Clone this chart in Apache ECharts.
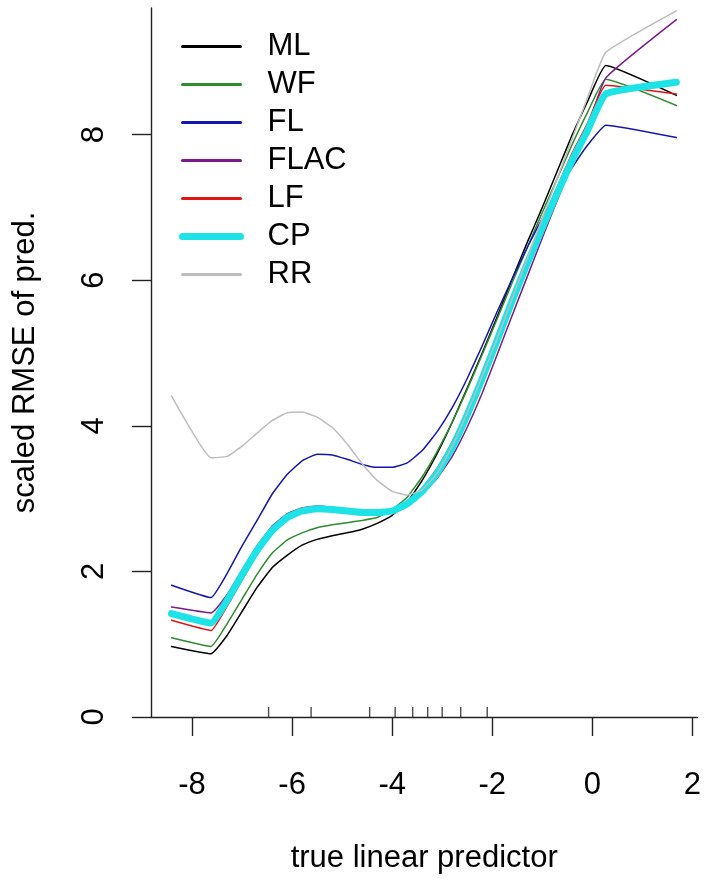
<!DOCTYPE html>
<html><head><meta charset="utf-8">
<script src="https://cdn.jsdelivr.net/npm/echarts@6/dist/echarts.min.js"></script>
<style>html,body{margin:0;padding:0;background:#fff}#c{width:704px;height:879px}</style>
</head><body><div id="c"></div>
<script>
const xs   = [-8.41,-7.62,-7.3,-7.0,-6.7,-6.4,-6.1,-5.8,-5.5,-5.2,-4.9,-4.6,-4.3,-4.0,-3.7,-3.4,-3.1,-2.8,-2.5,-2.2,-1.9,-1.6,-1.3,-1.0,-0.7,-0.4,-0.1,0.27,1.68];
const ML   = [0.97,0.87,1.12,1.45,1.78,2.05,2.22,2.36,2.44,2.49,2.53,2.58,2.66,2.77,2.95,3.25,3.62,4.05,4.52,5.00,5.50,6.02,6.52,7.00,7.50,8.00,8.45,8.95,8.54];
const WF   = [1.09,0.97,1.28,1.62,1.96,2.25,2.43,2.53,2.60,2.64,2.67,2.70,2.74,2.85,3.02,3.30,3.65,4.05,4.50,4.98,5.47,5.97,6.45,6.93,7.40,7.87,8.30,8.76,8.40];
const FL   = [1.81,1.64,1.97,2.35,2.70,3.06,3.33,3.52,3.61,3.60,3.54,3.47,3.43,3.43,3.49,3.66,3.92,4.25,4.65,5.10,5.57,6.02,6.45,6.85,7.22,7.55,7.85,8.13,7.96];
const FLAC = [1.51,1.43,1.68,2.02,2.35,2.62,2.79,2.87,2.90,2.88,2.85,2.82,2.81,2.83,2.92,3.07,3.28,3.58,3.98,4.45,4.98,5.52,6.05,6.58,7.10,7.60,8.10,8.78,9.58];
const LF   = [1.33,1.19,1.52,1.88,2.23,2.52,2.72,2.82,2.86,2.85,2.83,2.81,2.81,2.83,2.95,3.14,3.42,3.78,4.22,4.72,5.25,5.78,6.30,6.80,7.28,7.75,8.15,8.68,8.56];
const CP   = [1.42,1.29,1.60,1.95,2.29,2.56,2.74,2.83,2.86,2.85,2.83,2.81,2.81,2.83,2.93,3.10,3.35,3.70,4.15,4.65,5.18,5.72,6.23,6.72,7.20,7.65,8.05,8.56,8.72];
const RR   = [4.41,3.56,3.58,3.72,3.90,4.07,4.18,4.19,4.12,3.98,3.75,3.48,3.25,3.10,3.05,3.12,3.35,3.72,4.18,4.68,5.20,5.75,6.30,6.85,7.40,7.95,8.50,9.13,9.70];
const rugX = [-6.47,-5.62,-4.45,-3.94,-3.59,-3.29,-3.00,-2.63,-2.10];
const xTicks = [-8,-6,-4,-2,0,2];
const yTicks = [0,2,4,6,8];
const names  = ['ML','WF','FL','FLAC','LF','CP','RR'];
const values = [ML, WF, FL, FLAC, LF, CP, RR];
const colors = ['#000000','#2e8b2e','#1515b0','#7a1a8c','#e01515','#1ee3e6','#bdbdbd'];
const widths = [1.5,1.5,1.5,1.5,1.5,7,1.5];

const FONT = "'Liberation Sans', Arial, sans-serif";
const AX = '#222';
const chart = echarts.init(document.getElementById('c'), null, {renderer:'canvas'});
const series = names.map((n,i)=>({
  name:n, type:'line', symbol:'none', showSymbol:false, smooth:0.12, z: 2+i,
  lineStyle:{color:colors[i], width:widths[i], cap:'round', join:'round'},
  itemStyle:{color:colors[i]},
  data: xs.map((x,j)=>[x, values[i][j]])
}));
series.push({
  type:'scatter', symbol:'rect', symbolSize:[1.4,10], symbolOffset:[0,-5],
  itemStyle:{color:AX}, silent:true, z:1,
  data: rugX.map(x=>[x,0])
});
chart.setOption({
  animation:false,
  grid:{left:151, right:4, top:8, bottom:155, containLabel:false},
  legend:{
    orient:'vertical', left:179, top:31, padding:0,
    itemWidth:58, itemHeight:14, itemGap:7,
    data:names.map((n,i)=>({name:n, icon:'inherit',
      itemStyle:{opacity:0, borderWidth:0},
      lineStyle:{width: i===5 ? 7 : 3, color:colors[i], cap:'round', opacity:1}})),
    textStyle:{fontSize:31, lineHeight:31, color:'#000', fontFamily:FONT, padding:[0,0,0,22]}
  },
  xAxis:{
    type:'value', min:-8.82, max:2.10,
    name:'true linear predictor', nameLocation:'middle', nameGap:126,
    nameTextStyle:{fontSize:31, color:'#000', fontFamily:FONT},
    axisLine:{show:true, onZero:false, lineStyle:{color:AX, width:1.4}},
    axisTick:{show:true, inside:false, length:19, customValues:xTicks, lineStyle:{color:AX, width:1.4}},
    axisLabel:{customValues:xTicks, margin:53, fontSize:31, color:'#000', fontFamily:FONT},
    splitLine:{show:false}
  },
  yAxis:{
    type:'value', min:0, max:9.74,
    name:'scaled RMSE of pred.', nameLocation:'middle', nameGap:110, nameRotate:90,
    nameTextStyle:{fontSize:31, color:'#000', fontFamily:FONT},
    axisLine:{show:true, onZero:false, lineStyle:{color:AX, width:1.4}},
    axisTick:{show:true, inside:false, length:19, customValues:yTicks, lineStyle:{color:AX, width:1.4}},
    axisLabel:{customValues:yTicks, rotate:90, margin:41, fontSize:31, color:'#000', fontFamily:FONT},
    splitLine:{show:false}
  },
  series: series
});
</script></body></html>
